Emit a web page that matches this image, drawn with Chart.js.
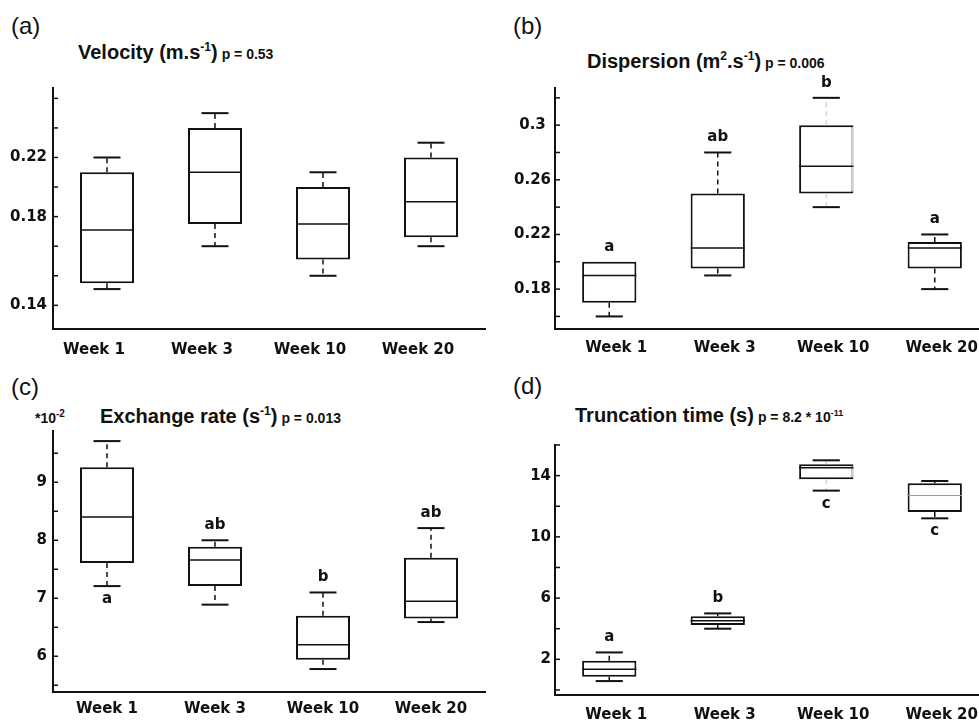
<!DOCTYPE html>
<html>
<head>
<meta charset="utf-8">
<title>Box plots</title>
<script src="https://cdn.jsdelivr.net/npm/chart.js@4.4.0/dist/chart.umd.min.js"></script>
<style>
  html, body { margin: 0; padding: 0; background: #fff; overflow: hidden; width: 979px; height: 721px; }
  canvas { position: absolute; }
  .lbl { position: absolute; font-family: 'Liberation Sans', Arial, sans-serif; font-size: 24px; line-height: 1; color: #111; }
  .ttl { position: absolute; font-family: 'Liberation Sans', Arial, sans-serif; font-weight: bold; font-size: 20px; line-height: 1; color: #111; white-space: nowrap; }
  .ttl sup { font-size: 12px; vertical-align: 8px; line-height: 0; }
  .ttl .p { font-size: 14px; margin-left: 4px; }
  .ttl .p sup { font-size: 9px; vertical-align: 6px; }
  .mult { font-size: 14px; }
  .mult sup { font-size: 10px; vertical-align: 6px; }
</style>
</head>
<body>

<div class="lbl" style="left:11px; top:14px;">(a)</div>
<div class="ttl" style="left:78px; top:42px;">Velocity (m.s<sup>-1</sup>)<span class="p">p = 0.53</span></div>
<canvas id="chartA" width="490" height="360" style="left:0px; top:0px;"></canvas>

<div class="lbl" style="left:513px; top:14px;">(b)</div>
<div class="ttl" style="left:587px; top:51px;">Dispersion (m<sup>2</sup>.s<sup>-1</sup>)<span class="p">p = 0.006</span></div>
<canvas id="chartB" width="500" height="360" style="left:490px; top:0px;"></canvas>

<div class="lbl" style="left:11px; top:375px;">(c)</div>
<div class="ttl mult" style="left:35px; top:411px;">*10<sup>-2</sup></div>
<div class="ttl" style="left:100px; top:406px;">Exchange rate (s<sup>-1</sup>)<span class="p">p = 0.013</span></div>
<canvas id="chartC" width="490" height="361" style="left:0px; top:360px;"></canvas>

<div class="lbl" style="left:513px; top:374px;">(d)</div>
<div class="ttl" style="left:575px; top:405px;">Truncation time (s)<span class="p">p = 8.2 * 10<sup>-11</sup></span></div>
<canvas id="chartD" width="500" height="361" style="left:490px; top:360px;"></canvas>

<script>
const categories = ["Week 1", "Week 3", "Week 10", "Week 20"];

// (a) velocity
const velocityMin = [0.131, 0.160, 0.140, 0.160];
const velocityQ1 = [0.135, 0.175, 0.151, 0.166];
const velocityMedian = [0.171, 0.210, 0.175, 0.190];
const velocityQ3 = [0.210, 0.240, 0.200, 0.220];
const velocityMax = [0.220, 0.250, 0.210, 0.230];
const velocityTicks = [0.12, 0.14, 0.16, 0.18, 0.20, 0.22, 0.24, 0.26];
const velocityTickLabels = ["0.14", "", "", "0.18", "", "0.22", "", ""];

// (b) dispersion
const dispersionMin = [0.160, 0.190, 0.240, 0.180];
const dispersionQ1 = [0.170, 0.195, 0.250, 0.195];
const dispersionMedian = [0.190, 0.210, 0.270, 0.210];
const dispersionQ3 = [0.200, 0.250, 0.300, 0.2145];
const dispersionMax = [0.200, 0.280, 0.320, 0.220];
const dispersionLetters = ["a", "ab", "b", "a"];
const dispersionLetterSide = ["above", "above", "above", "above"];
const dispersionTicks = [0.16, 0.18, 0.20, 0.22, 0.24, 0.26, 0.28, 0.30, 0.32];
const dispersionTickLabels = ["", "0.18", "", "0.22", "", "0.26", "", "0.3 ", ""];

// (c) exchange rate (*10^-2)
const exchangeMin = [7.21, 6.89, 5.78, 6.59];
const exchangeQ1 = [7.61, 7.21, 5.94, 6.65];
const exchangeMedian = [8.40, 7.66, 6.20, 6.95];
const exchangeQ3 = [9.26, 7.89, 6.70, 7.70];
const exchangeMax = [9.71, 8.00, 7.10, 8.21];
const exchangeLetters = ["a", "ab", "b", "ab"];
const exchangeLetterSide = ["below", "above", "above", "above"];
const exchangeTicks = [5.5, 6, 6.5, 7, 7.5, 8, 8.5, 9, 9.5];
const exchangeTickLabels = ["", "6", "", "7", "", "8", "", "9", ""];

// (d) truncation time
const truncationMin = [0.58, 4.00, 13.02, 11.21];
const truncationQ1 = [0.86, 4.24, 13.76, 11.63];
const truncationMedian = [1.35, 4.52, 14.52, 12.70];
const truncationQ3 = [1.91, 4.82, 14.74, 13.50];
const truncationMax = [2.45, 5.00, 15.00, 13.65];
const truncationLetters = ["a", "b", "c", "c"];
const truncationLetterSide = ["above", "above", "below", "below"];
const truncationTicks = [0, 2, 4, 6, 8, 10, 12, 14, 16];
const truncationTickLabels = ["", "2", "", "6", "", "10", "", "14", ""];

const INK = "#111";
const FAINT = "#d4d4d4";

function line(ctx, x1, y1, x2, y2) {
    ctx.beginPath();
    ctx.moveTo(x1, y1);
    ctx.lineTo(x2, y2);
    ctx.stroke();
}

// whiskers, medians, caps, tick marks and letters on top of the floating bars
function boxPlugin(s) {
    return {
        id: "boxes",
        afterDatasetsDraw(chart) {
            const { ctx, chartArea, scales: { x, y } } = chart;
            const meta = chart.getDatasetMeta(0);
            ctx.save();

            y.ticks.forEach(t => {
                const py = y.getPixelForValue(t.value);
                ctx.strokeStyle = INK;
                ctx.lineWidth = 1.5;
                line(ctx, chartArea.left, py, chartArea.left + 5, py);
            });

            s.q1.forEach((_, i) => {
                const cx = x.getPixelForValue(i);
                const half = meta.data[i].width / 2;
                const cap = half / 2;
                const pMin = y.getPixelForValue(s.min[i]);
                const pQ1 = y.getPixelForValue(s.q1[i]);
                const pMed = y.getPixelForValue(s.median[i]);
                const pQ3 = y.getPixelForValue(s.q3[i]);
                const pMax = y.getPixelForValue(s.max[i]);
                const faint = s.faint && s.faint[i];

                ctx.setLineDash([5, 4]);
                ctx.lineWidth = 1.5;
                ctx.strokeStyle = faint ? FAINT : INK;
                if (pQ3 - pMax > 1) line(ctx, cx, pQ3, cx, pMax);
                if (pMin - pQ1 > 1) line(ctx, cx, pQ1, cx, pMin);
                ctx.setLineDash([]);

                ctx.strokeStyle = INK;
                ctx.lineWidth = 2;
                if (pQ3 - pMax > 1) line(ctx, cx - cap, pMax, cx + cap, pMax);
                if (pMin - pQ1 > 1) line(ctx, cx - cap, pMin, cx + cap, pMin);

                if (faint) {
                    ctx.strokeStyle = FAINT;
                    line(ctx, cx + half - 1, pQ3 + 2, cx + half - 1, pQ1 - 2);
                }

                const grey = s.greyMedian && s.greyMedian[i];
                ctx.strokeStyle = grey ? "#999" : INK;
                ctx.lineWidth = grey ? 1 : 1.5;
                line(ctx, cx - half, pMed, cx + half, pMed);

                if (s.letters) {
                    ctx.fillStyle = INK;
                    ctx.font = "bold 15px 'DejaVu Sans'";
                    ctx.textAlign = "center";
                    ctx.textBaseline = "middle";
                    const ly = s.side[i] === "above" ? pMax - 15 : pMin + 13;
                    ctx.fillText(s.letters[i], cx, ly);
                }
            });
            ctx.restore();
        }
    };
}

function boxChart(id, s, frame) {
    const tickFont = { family: "DejaVu Sans", weight: "bold", size: 15 };
    return new Chart(document.getElementById(id), {
        type: "bar",
        data: {
            labels: categories,
            datasets: [{
                data: s.q1.map((v, i) => [v, s.q3[i]]),
                backgroundColor: "#fff",
                borderColor: INK,
                borderWidth: 2,
                borderSkipped: false,
                barPercentage: 0.5,
                categoryPercentage: 1
            }]
        },
        options: {
            responsive: false,
            animation: false,
            layout: { padding: { left: 0, top: frame.top, right: frame.right, bottom: 0 } },
            plugins: { legend: { display: false }, tooltip: { enabled: false } },
            scales: {
                x: {
                    grid: { display: false, drawTicks: false },
                    border: { display: true, color: INK, width: 2 },
                    ticks: {
                        font: tickFont, color: INK, padding: frame.xPad,
                        labelOffset: frame.labelOffset, maxRotation: 0, autoSkip: false
                    },
                    afterFit: sc => { sc.height = frame.xh; }
                },
                y: {
                    min: frame.min,
                    max: frame.max,
                    grid: { display: false, drawTicks: false },
                    border: { display: true, color: INK, width: 2 },
                    afterBuildTicks: sc => { sc.ticks = s.ticks.map(v => ({ value: v })); },
                    ticks: {
                        autoSkip: false, font: tickFont, color: INK, padding: frame.yPad,
                        callback: (v, i) => s.tickLabels[i]
                    },
                    afterFit: sc => { sc.width = frame.yw; }
                }
            }
        },
        plugins: [boxPlugin(s)]
    });
}

boxChart("chartA", {
    min: velocityMin, q1: velocityQ1, median: velocityMedian, q3: velocityQ3, max: velocityMax,
    ticks: velocityTicks, tickLabels: velocityTickLabels
}, { top: 88, right: 5, yw: 53, xh: 31, min: 0.104, max: 0.267, xPad: 12, yPad: 6, labelOffset: -13 });

boxChart("chartB", {
    min: dispersionMin, q1: dispersionQ1, median: dispersionMedian, q3: dispersionQ3, max: dispersionMax,
    letters: dispersionLetters, side: dispersionLetterSide, faint: [false, false, true, false],
    ticks: dispersionTicks, tickLabels: dispersionTickLabels
}, { top: 88, right: 1, yw: 65, xh: 31, min: 0.1508, max: 0.3272, xPad: 10, yPad: 4, labelOffset: 7 });

boxChart("chartC", {
    min: exchangeMin, q1: exchangeQ1, median: exchangeMedian, q3: exchangeQ3, max: exchangeMax,
    letters: exchangeLetters, side: exchangeLetterSide,
    ticks: exchangeTicks, tickLabels: exchangeTickLabels
}, { top: 71, right: 5, yw: 53, xh: 29, min: 5.384, max: 9.884, xPad: 8, yPad: 6, labelOffset: 0 });

boxChart("chartD", {
    min: truncationMin, q1: truncationQ1, median: truncationMedian, q3: truncationQ3, max: truncationMax,
    letters: truncationLetters, side: truncationLetterSide,
    faint: [false, false, true, false], greyMedian: [false, false, false, true],
    ticks: truncationTicks, tickLabels: truncationTickLabels
}, { top: 85, right: 1, yw: 65, xh: 26, min: -0.33, max: 16, xPad: 11, yPad: 4, labelOffset: 7 });
</script>
</body>
</html>
